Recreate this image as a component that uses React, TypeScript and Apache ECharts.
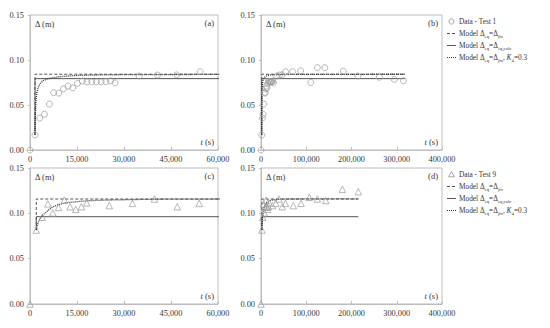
import React, { useEffect, useRef } from "react";
import * as echarts from "echarts";

const FONT = '"Liberation Serif", "Times New Roman", serif';

// Test 1 measurements [t (s), Δ (m)]
const test1Data: number[][] = [
  [0, 0], [1600, 0.0167], [3100, 0.0355], [4600, 0.0397], [6200, 0.051],
  [7550, 0.0637], [9200, 0.0632], [10700, 0.068], [12150, 0.071], [13650, 0.069],
  [15150, 0.074], [16700, 0.0765], [18200, 0.0757], [19700, 0.0757], [21200, 0.0757],
  [22700, 0.0757], [24200, 0.0759], [25700, 0.0768], [27150, 0.0746],
  [34800, 0.0822], [40700, 0.0833], [46800, 0.0835], [54300, 0.087],
  [70000, 0.087], [87700, 0.088], [110000, 0.075], [124500, 0.0915],
  [141000, 0.0915], [182000, 0.0876], [214000, 0.0822], [261500, 0.0808],
  [294700, 0.0785], [315000, 0.077],
];
const test1Fin: number[][] = [[1600, 0.0167], [1600, 0.0842], [318000, 0.0842]];
const test1Calc: number[][] = [[1600, 0.0167], [1600, 0.0793], [318000, 0.0793]];
const test1K4: number[][] = [
  [1600, 0.0167], [1700, 0.04], [1900, 0.055], [2200, 0.064], [2700, 0.07],
  [3300, 0.074], [4200, 0.077], [5300, 0.0787], [7000, 0.0803], [9600, 0.0815],
  [13700, 0.0826], [20000, 0.0833], [30000, 0.0837], [60000, 0.084], [318000, 0.0842],
];

// Test 9 measurements
const test9Data: number[][] = [
  [0, 0], [2000, 0.0816], [3900, 0.0957], [5700, 0.1105], [7300, 0.1005],
  [9100, 0.1065], [10950, 0.1145], [12800, 0.1073], [14600, 0.1044], [16400, 0.1073],
  [18100, 0.1115], [25300, 0.1085], [32700, 0.111], [39700, 0.1158], [47000, 0.1073],
  [54000, 0.111], [71400, 0.1085], [88400, 0.111], [106800, 0.1177], [124500, 0.1158],
  [143000, 0.1142], [180000, 0.1265], [215000, 0.1239],
];
const test9Fin: number[][] = [[2000, 0.0816], [2000, 0.1158], [215000, 0.1158]];
const test9Calc: number[][] = [[2000, 0.0816], [2000, 0.0963], [215000, 0.0963]];
const test9K4: number[][] = [
  [2000, 0.0816], [2300, 0.087], [2800, 0.091], [3300, 0.0945], [4200, 0.0985],
  [5300, 0.1018], [6300, 0.1048], [7400, 0.1073], [9000, 0.1095], [10600, 0.111],
  [12500, 0.112], [14900, 0.1129], [19100, 0.114], [25500, 0.1147], [38300, 0.1155],
  [60000, 0.1158], [215000, 0.116],
];

const yTicks = [0, 0.05, 0.1, 0.15];
const xMaxShort = 60000;
const xIntShort = 15000;
const xMaxLong = 400000;
const xIntLong = 100000;
const panelLabels = ["(a)", "(b)", "(c)", "(d)"];

const legendTop = ["Data - Test 1", "Model Δ{s|eq}=Δ{si|fin}", "Model Δ{s|eq}=Δ{s|eq,calc}", "Model Δ{s|eq}=Δ{si|fin}, {i|K}{s|4}=0.3"];
const legendBottom = ["Data - Test 9", "Model Δ{s|eq}=Δ{si|fin}", "Model Δ{s|eq}=Δ{s|eq,calc}", "Model Δ{s|eq}=Δ{si|fin}, {i|K}{s|4}=0.3"];

export default function App() {
  const ref = useRef<HTMLDivElement>(null);
  useEffect(() => {
    if (!ref.current) return;
    const chart = echarts.init(ref.current, null, { renderer: "svg" });
    const grids = [
      { left: 30, top: 15, width: 188, height: 135 },
      { left: 261, top: 15, width: 181, height: 135 },
      { left: 30, top: 168, width: 188, height: 136 },
      { left: 261, top: 168, width: 181, height: 136 },
    ];
    const border = "#bdbdbd";
    const labelColor = "#363636";
    const markerColor = "#9a9a9a";
    const lineColor = "#555555";
    const dotColor = "#333333";
    const xAxes = grids.map((_, i) => {
      const long = i % 2 === 1;
      return {
        type: "value",
        gridIndex: i,
        min: 0,
        max: long ? xMaxLong : xMaxShort,
        interval: long ? xIntLong : xIntShort,
        axisLine: { show: true, lineStyle: { color: border } },
        axisTick: { show: true, inside: true, length: 3, lineStyle: { color: border } },
        splitLine: { show: false },
        axisLabel: {
          fontFamily: FONT,
          fontSize: 8.3,
          color: labelColor,
          margin: 5,
          showMaxLabel: true,
          formatter: (v: number) => v.toLocaleString("en-US"),
        },
      };
    });
    const yAxes = grids.map((_, i) => ({
      type: "value",
      gridIndex: i,
      min: yTicks[0],
      max: yTicks[yTicks.length - 1],
      interval: 0.05,
      axisLine: { show: true, lineStyle: { color: border } },
      axisTick: { show: true, length: 2, lineStyle: { color: border } },
      splitLine: { show: false },
      axisLabel: {
        fontFamily: FONT,
        fontSize: 8.3,
        color: labelColor,
        margin: 6,
        formatter: (v: number) => v.toFixed(2),
      },
    }));
    const scatter = (name: string, data: number[][], idx: number, symbol: string) => ({
      name,
      type: "scatter",
      xAxisIndex: idx,
      yAxisIndex: idx,
      data,
      symbol,
      symbolSize: symbol === "triangle" ? 6.5 : 6,
      itemStyle: { color: "rgba(255,255,255,0)", borderColor: markerColor, borderWidth: 0.9 },
      z: 3,
    });
    const line = (name: string, data: number[][], idx: number, type: any, color: string, width = 1) => ({
      name,
      type: "line",
      xAxisIndex: idx,
      yAxisIndex: idx,
      data,
      symbol: "none",
      showSymbol: false,
      clip: true,
      itemStyle: { color },
      lineStyle: { color, width, type },
      z: 2,
    });
    const series: any[] = [];
    [0, 1].forEach((idx) => {
      series.push(scatter("Data - Test 1", test1Data, idx, "circle"));
      series.push(line("fin1", test1Fin, idx, [3, 2], lineColor));
      series.push(line("calc1", test1Calc, idx, "solid", lineColor));
      series.push(line("k1", test1K4, idx, [1, 1], dotColor, 1.3));
    });
    [2, 3].forEach((idx) => {
      series.push(scatter("Data - Test 9", test9Data, idx, "triangle"));
      series.push(line("fin9", test9Fin, idx, [3, 2], lineColor));
      series.push(line("calc9", test9Calc, idx, "solid", lineColor));
      series.push(line("k9", test9K4, idx, [1, 1], dotColor, 1.3));
    });
    const rich = {
      s: { fontFamily: FONT, fontSize: 4.8, lineHeight: 5, verticalAlign: "bottom", fill: labelColor },
      si: { fontFamily: FONT, fontSize: 4.8, lineHeight: 5, verticalAlign: "bottom", fontStyle: "italic", fill: labelColor },
      i: { fontFamily: FONT, fontSize: 7.3, lineHeight: 10, fontStyle: "italic", fill: labelColor },
    };
    const texts: any[] = [];
    grids.forEach((g, i) => {
      const bottom = g.top + g.height;
      const right = g.left + g.width;
      texts.push({
        type: "text",
        x: g.left + 5,
        y: g.top + 9,
        style: { text: "Δ (m)", font: `8.5px ${FONT}`, fill: labelColor, textVerticalAlign: "middle" },
      });
      texts.push({
        type: "text",
        x: right - 4,
        y: g.top + 8,
        style: { text: panelLabels[i], font: `8.5px ${FONT}`, fill: labelColor, textAlign: "right", textVerticalAlign: "middle" },
      });
      texts.push({
        type: "text",
        x: right - 4,
        y: bottom - 8,
        style: {
          text: "{i|t} (s)",
          font: `8.5px ${FONT}`,
          fill: labelColor,
          textAlign: "right",
          textVerticalAlign: "middle",
          rich: { i: { fontStyle: "italic", fontFamily: FONT, fontSize: 8.5, fill: labelColor } },
        },
      });
    });
    // legends
    const legendBlock = (labels: string[], y0: number, triangle: boolean) => {
      const step = 12;
      const iconX = 447;
      const textX = 459;
      labels.forEach((lab, r) => {
        const y = y0 + r * step;
        if (r === 0) {
          if (triangle) {
            texts.push({
              type: "polygon",
              shape: { points: [[451.5, y - 3], [454.5, y + 2.3], [448.5, y + 2.3]] },
              style: { fill: "none", stroke: markerColor, lineWidth: 0.9 },
            });
          } else {
            texts.push({
              type: "circle",
              shape: { cx: 451.5, cy: y, r: 2.6 },
              style: { fill: "none", stroke: markerColor, lineWidth: 0.9 },
            });
          }
        } else {
          const dash = r === 1 ? [3, 2] : r === 3 ? [1, 1] : null;
          texts.push({
            type: "line",
            shape: { x1: iconX, y1: y, x2: iconX + 9, y2: y },
            style: { stroke: r === 3 ? dotColor : lineColor, lineWidth: r === 3 ? 1.2 : 1, lineDash: dash },
          });
        }
        texts.push({
          type: "text",
          x: textX,
          y,
          style: {
            text: lab,
            font: `7.3px ${FONT}`,
            fill: labelColor,
            textVerticalAlign: "middle",
            lineHeight: 10,
            rich,
          },
        });
      });
    };
    legendBlock(legendTop, 21.5, false);
    legendBlock(legendBottom, 174.5, true);
    chart.setOption({
      animation: false,
      backgroundColor: "#ffffff",
      grid: grids.map((g) => ({ ...g, show: true, borderColor: border, borderWidth: 1, backgroundColor: "transparent" })),
      xAxis: xAxes,
      yAxis: yAxes,
      graphic: texts,
      series,
    });
    return () => chart.dispose();
  }, []);
  return <div ref={ref} style={{ position: "absolute", left: 0, top: 0, width: 550, height: 328 }} />;
}
